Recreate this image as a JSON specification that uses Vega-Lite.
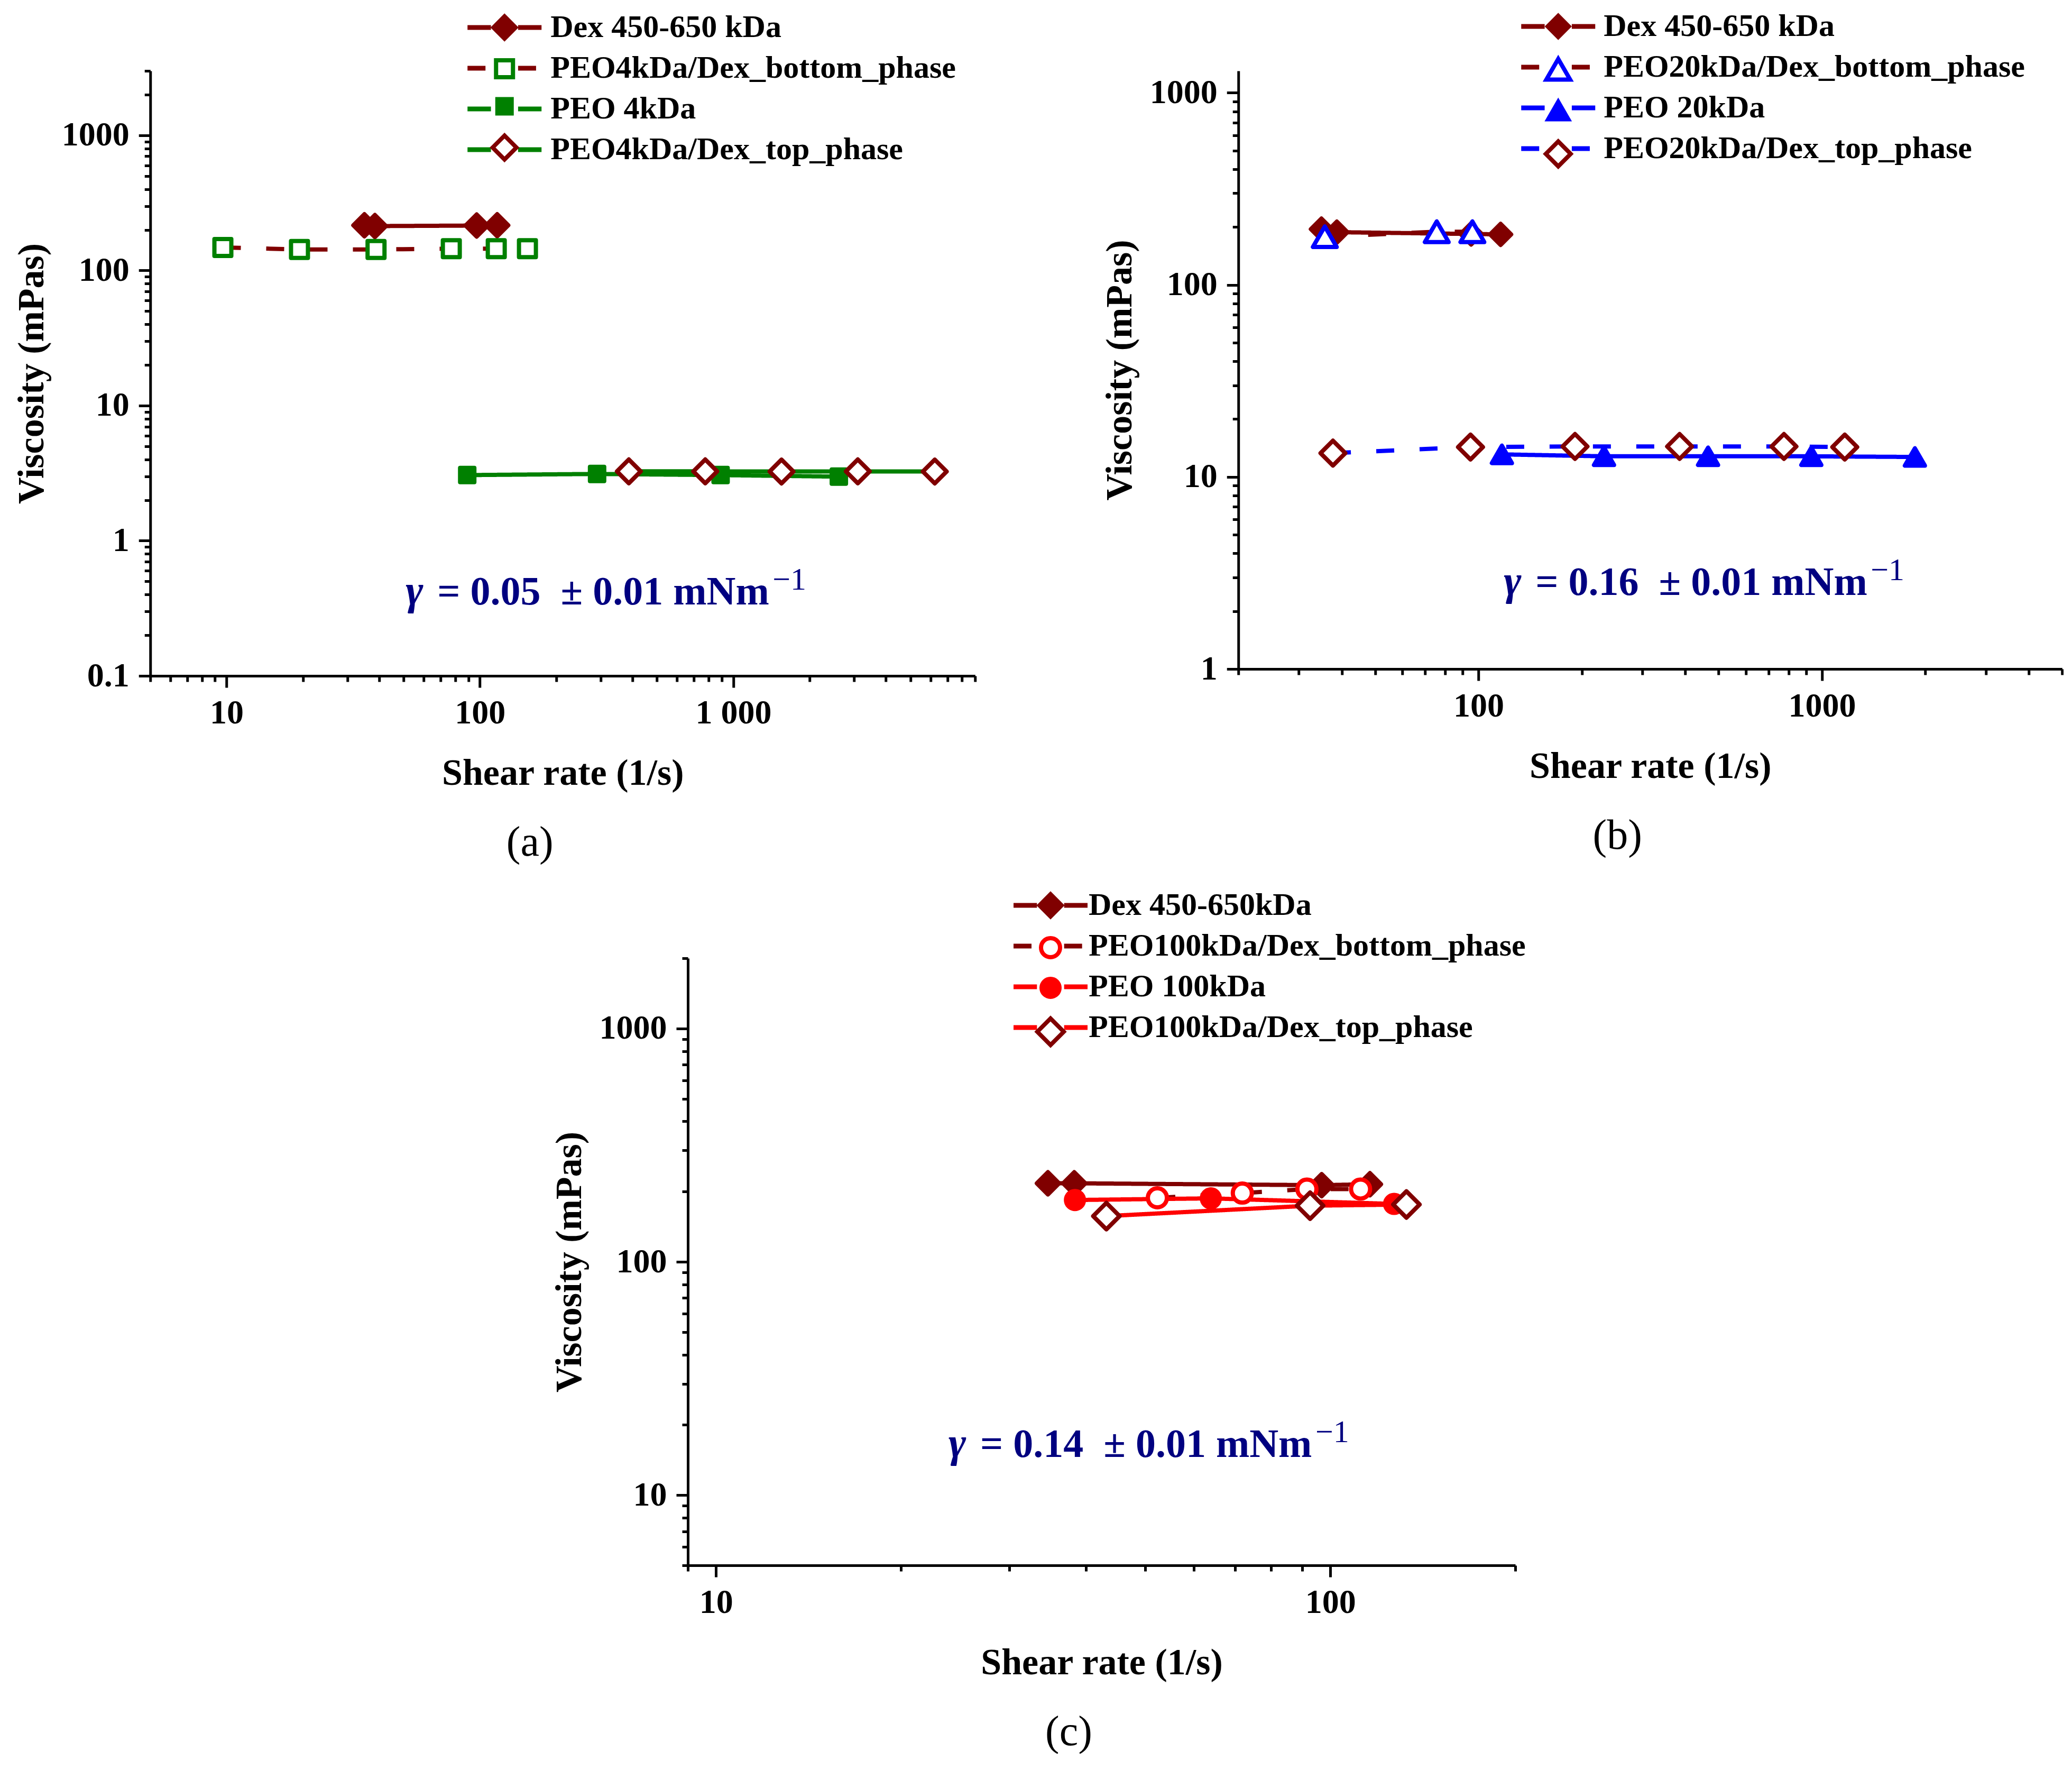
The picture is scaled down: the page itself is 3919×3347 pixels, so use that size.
{
  "$schema": "https://vega.github.io/schema/vega-lite/v6.json",
  "background": "white",
  "padding": {"left": 25, "top": 20, "right": 0, "bottom": 0},
  "config": {
    "font": "Liberation Serif",
    "view": {"stroke": null},
    "axis": {
      "grid": false,
      "domainColor": "black",
      "domainWidth": 5,
      "tickColor": "black",
      "tickWidth": 5,
      "labelFont": "Liberation Serif",
      "labelFontWeight": "bold",
      "labelFontSize": 64,
      "labelColor": "black",
      "labelOverlap": false,
      "labelFlush": false,
      "titleFont": "Liberation Serif",
      "titleFontWeight": "bold",
      "titleFontSize": 70,
      "titleColor": "black"
    },
    "axisX": {"labelPadding": 16, "titlePadding": 48},
    "axisY": {"labelPadding": 18, "titlePadding": 20},
    "legend": {
      "labelFont": "Liberation Serif",
      "labelFontWeight": "bold",
      "labelFontSize": 60,
      "labelColor": "black",
      "labelLimit": 2000,
      "padding": 0,
      "rowPadding": 17,
      "symbolOffset": 0
    },
    "title": {
      "orient": "bottom",
      "anchor": "middle",
      "frame": "group",
      "font": "Liberation Serif",
      "fontWeight": "normal",
      "fontSize": 80,
      "color": "black",
      "offset": 58,
      "baseline": "top"
    }
  },
  "center": true,
  "spacing": 48,
  "resolve": {
    "scale": {"color": "independent", "stroke": "independent", "fill": "independent", "shape": "independent", "size": "independent", "strokeDash": "independent"},
    "legend": {"color": "independent", "stroke": "independent", "fill": "independent", "shape": "independent", "size": "independent", "strokeDash": "independent"}
  },
  "vconcat": [
    {
      "spacing": 236,
      "resolve": {
        "scale": {"color": "independent", "stroke": "independent", "fill": "independent", "shape": "independent", "size": "independent", "strokeDash": "independent"},
        "legend": {"color": "independent", "stroke": "independent", "fill": "independent", "shape": "independent", "size": "independent", "strokeDash": "independent"}
      },
      "hconcat": [
        {
          "width": 1560,
          "height": 1144,
          "title": {"text": "(a)", "dx": -62},
          "data": {
            "values": [
              {"series": "Dex 450-650 kDa", "x": 35.0, "y": 216},
              {"series": "Dex 450-650 kDa", "x": 38.5, "y": 213},
              {"series": "Dex 450-650 kDa", "x": 97.1, "y": 215},
              {"series": "Dex 450-650 kDa", "x": 117, "y": 216},
              {"series": "PEO4kDa/Dex_bottom_phase", "x": 9.67, "y": 148},
              {"series": "PEO4kDa/Dex_bottom_phase", "x": 19.4, "y": 143},
              {"series": "PEO4kDa/Dex_bottom_phase", "x": 38.9, "y": 143},
              {"series": "PEO4kDa/Dex_bottom_phase", "x": 77.1, "y": 145},
              {"series": "PEO4kDa/Dex_bottom_phase", "x": 116, "y": 145},
              {"series": "PEO4kDa/Dex_bottom_phase", "x": 154, "y": 145},
              {"series": "PEO 4kDa", "x": 89.1, "y": 3.06},
              {"series": "PEO 4kDa", "x": 290, "y": 3.12},
              {"series": "PEO 4kDa", "x": 891, "y": 3.06},
              {"series": "PEO 4kDa", "x": 2610, "y": 2.98},
              {"series": "PEO4kDa/Dex_top_phase", "x": 387, "y": 3.26},
              {"series": "PEO4kDa/Dex_top_phase", "x": 775, "y": 3.26},
              {"series": "PEO4kDa/Dex_top_phase", "x": 1550, "y": 3.25},
              {"series": "PEO4kDa/Dex_top_phase", "x": 3100, "y": 3.26},
              {"series": "PEO4kDa/Dex_top_phase", "x": 6240, "y": 3.25}
            ]
          },
          "encoding": {
            "x": {
              "field": "x", "type": "quantitative", "title": "Shear rate (1/s)",
              "scale": {"type": "log", "domain": [5, 9000], "nice": false},
              "axis": {
                "values": [5,6,7,8,9,10,20,30,40,50,60,70,80,90,100,200,300,400,500,600,700,800,900,1000,2000,3000,4000,5000,6000,7000,8000,9000],
                "labelExpr": "datum.value == 10 ? '10' : datum.value == 100 ? '100' : datum.value == 1000 ? '1 000' : ''",
                "tickSize": {"condition": {"test": "indexof([10,100,1000], datum.value) >= 0", "value": 22}, "value": 11}
              }
            },
            "y": {
              "field": "y", "type": "quantitative", "title": "Viscosity (mPas)",
              "scale": {"type": "log", "domain": [0.1, 3000], "nice": false},
              "axis": {
                "values": [0.1,0.2,0.3,0.4,0.5,0.6,0.7,0.8,0.9,1,2,3,4,5,6,7,8,9,10,20,30,40,50,60,70,80,90,100,200,300,400,500,600,700,800,900,1000,2000,3000],
                "labelExpr": "indexof([0.1,1,10,100,1000], datum.value) >= 0 ? '' + datum.value : ''",
                "tickSize": {"condition": {"test": "indexof([0.1,1,10,100,1000], datum.value) >= 0", "value": 22}, "value": 11}
              }
            }
          },
          "layer": [
            {
              "mark": {"type": "line", "strokeWidth": 8},
              "encoding": {
                "color": {
                  "field": "series", "type": "nominal",
                  "scale": {"domain": ["Dex 450-650 kDa", "PEO4kDa/Dex_bottom_phase", "PEO 4kDa", "PEO4kDa/Dex_top_phase"], "range": ["#800000", "#800000", "#008000", "#008000"]},
                  "legend": {"orient": "none", "legendX": 640, "legendY": -112, "title": null, "symbolType": "M-3,0H-1.1M1.1,0H3", "symbolSize": 2178, "symbolStrokeWidth": 9, "labelOffset": 57}
                },
                "strokeDash": {
                  "field": "series", "type": "nominal",
                  "scale": {"domain": ["Dex 450-650 kDa", "PEO4kDa/Dex_bottom_phase", "PEO 4kDa", "PEO4kDa/Dex_top_phase"], "range": [[1, 0], [34, 48], [1, 0], [1, 0]]},
                  "legend": null
                }
              }
            },
            {
              "mark": {"type": "point", "opacity": 1, "strokeWidth": 8, "strokeJoin": "round"},
              "encoding": {
                "shape": {"field": "series", "type": "nominal", "sort": null, "scale": {"range": ["diamond", "square", "square", "diamond"]},
                  "legend": {"orient": "none", "legendX": 640, "legendY": -112, "title": null, "labelOffset": 57, "labelExpr": "''", "symbolStrokeWidth": 8, "rowPadding": 9}},
                "stroke": {"field": "series", "type": "nominal", "sort": null, "scale": {"range": ["#800000", "#008000", "#008000", "#800000"]}},
                "fill": {"field": "series", "type": "nominal", "sort": null, "scale": {"range": ["#800000", "#ffffff", "#008000", "#ffffff"]}},
                "size": {"field": "series", "type": "nominal", "sort": null, "scale": {"type": "ordinal", "range": [1764, 1024, 729, 2025]}}
              }
            },
            {
              "data": {"values": [{"x": 50.9, "y": 0.338, "t": "= 0.05\u00a0\u00a0± 0.01 mNm"}]},
              "layer": [
                {"mark": {"type": "text", "text": "γ", "fontSize": 80, "fontWeight": "bold", "fontStyle": "italic", "color": "#000080", "align": "left", "baseline": "alphabetic"}},
                {"mark": {"type": "text", "fontSize": 76, "fontWeight": "bold", "color": "#000080", "align": "left", "baseline": "alphabetic", "dx": 60}, "encoding": {"text": {"field": "t"}}},
                {"mark": {"type": "text", "text": "−1", "fontSize": 60, "fontWeight": "normal", "color": "#000080", "align": "left", "baseline": "alphabetic", "dx": 694, "dy": -28}}
              ]
            }
          ]
        },
        {
          "width": 1558,
          "height": 1131,
          "title": {"text": "(b)", "dx": -62},
          "data": {
            "values": [
              {"series": "Dex 450-650 kDa", "x": 34.9, "y": 195},
              {"series": "Dex 450-650 kDa", "x": 38.7, "y": 188},
              {"series": "Dex 450-650 kDa", "x": 95.2, "y": 184},
              {"series": "Dex 450-650 kDa", "x": 116, "y": 183},
              {"series": "PEO20kDa/Dex_bottom_phase", "x": 35.7, "y": 178},
              {"series": "PEO20kDa/Dex_bottom_phase", "x": 75.6, "y": 189},
              {"series": "PEO20kDa/Dex_bottom_phase", "x": 96, "y": 189},
              {"series": "PEO 20kDa", "x": 117, "y": 13.1},
              {"series": "PEO 20kDa", "x": 232, "y": 12.8},
              {"series": "PEO 20kDa", "x": 466, "y": 12.8},
              {"series": "PEO 20kDa", "x": 931, "y": 12.8},
              {"series": "PEO 20kDa", "x": 1864, "y": 12.7},
              {"series": "PEO20kDa/Dex_top_phase", "x": 37.7, "y": 13.3},
              {"series": "PEO20kDa/Dex_top_phase", "x": 94.8, "y": 14.3},
              {"series": "PEO20kDa/Dex_top_phase", "x": 191, "y": 14.4},
              {"series": "PEO20kDa/Dex_top_phase", "x": 385, "y": 14.4},
              {"series": "PEO20kDa/Dex_top_phase", "x": 775, "y": 14.4},
              {"series": "PEO20kDa/Dex_top_phase", "x": 1165, "y": 14.3}
            ]
          },
          "encoding": {
            "x": {
              "field": "x", "type": "quantitative", "title": "Shear rate (1/s)",
              "scale": {"type": "log", "domain": [20, 5000], "nice": false},
              "axis": {
                "values": [20,30,40,50,60,70,80,90,100,200,300,400,500,600,700,800,900,1000,2000,3000,4000,5000],
                "labelExpr": "datum.value == 100 ? '100' : datum.value == 1000 ? '1000' : ''",
                "tickSize": {"condition": {"test": "indexof([100,1000], datum.value) >= 0", "value": 22}, "value": 11}
              }
            },
            "y": {
              "field": "y", "type": "quantitative", "title": "Viscosity (mPas)",
              "scale": {"type": "log", "domain": [1, 1300], "nice": false},
              "axis": {
                "values": [1,2,3,4,5,6,7,8,9,10,20,30,40,50,60,70,80,90,100,200,300,400,500,600,700,800,900,1000],
                "labelExpr": "indexof([1,10,100,1000], datum.value) >= 0 ? '' + datum.value : ''",
                "tickSize": {"condition": {"test": "indexof([1,10,100,1000], datum.value) >= 0", "value": 22}, "value": 11}
              }
            }
          },
          "layer": [
            {
              "mark": {"type": "line", "strokeWidth": 8},
              "encoding": {
                "color": {
                  "field": "series", "type": "nominal",
                  "scale": {"domain": ["Dex 450-650 kDa", "PEO20kDa/Dex_bottom_phase", "PEO 20kDa", "PEO20kDa/Dex_top_phase"], "range": ["#800000", "#800000", "#0000ff", "#0000ff"]},
                  "legend": {"orient": "none", "legendX": 575, "legendY": -114, "title": null, "symbolType": "M-3,0H-1.1M1.1,0H3", "symbolSize": 2178, "symbolStrokeWidth": 9, "labelOffset": 56}
                },
                "strokeDash": {
                  "field": "series", "type": "nominal",
                  "scale": {"domain": ["Dex 450-650 kDa", "PEO20kDa/Dex_bottom_phase", "PEO 20kDa", "PEO20kDa/Dex_top_phase"], "range": [[1, 0], [34, 48], [1, 0], [34, 48]]},
                  "legend": null
                }
              }
            },
            {
              "mark": {"type": "point", "opacity": 1, "strokeWidth": 8, "strokeJoin": "round"},
              "encoding": {
                "shape": {"field": "series", "type": "nominal", "sort": null, "scale": {"range": ["diamond", "triangle-up", "triangle-up", "diamond"]},
                  "legend": {"orient": "none", "legendX": 575, "legendY": -114, "title": null, "labelOffset": 56, "labelExpr": "''", "symbolStrokeWidth": 8, "rowPadding": 9}},
                "stroke": {"field": "series", "type": "nominal", "sort": null, "scale": {"range": ["#800000", "#0000ff", "#0000ff", "#800000"]}},
                "fill": {"field": "series", "type": "nominal", "sort": null, "scale": {"range": ["#800000", "#ffffff", "#0000ff", "#ffffff"]}},
                "size": {"field": "series", "type": "nominal", "sort": null, "scale": {"type": "ordinal", "range": [1600, 2025, 1444, 2209]}}
              }
            },
            {
              "data": {"values": [{"x": 118.5, "y": 2.43, "t": "= 0.16\u00a0\u00a0± 0.01 mNm"}]},
              "layer": [
                {"mark": {"type": "text", "text": "γ", "fontSize": 80, "fontWeight": "bold", "fontStyle": "italic", "color": "#000080", "align": "left", "baseline": "alphabetic"}},
                {"mark": {"type": "text", "fontSize": 76, "fontWeight": "bold", "color": "#000080", "align": "left", "baseline": "alphabetic", "dx": 60}, "encoding": {"text": {"field": "t"}}},
                {"mark": {"type": "text", "text": "−1", "fontSize": 60, "fontWeight": "normal", "color": "#000080", "align": "left", "baseline": "alphabetic", "dx": 694, "dy": -28}}
              ]
            }
          ]
        }
      ]
    },
    {
      "width": 1565,
      "height": 1148,
      "title": {"text": "(c)", "dx": -62},
      "data": {
        "values": [
          {"series": "Dex 450-650kDa", "x": 34.7, "y": 217},
          {"series": "Dex 450-650kDa", "x": 38.3, "y": 217},
          {"series": "Dex 450-650kDa", "x": 96.8, "y": 213},
          {"series": "Dex 450-650kDa", "x": 116, "y": 215},
          {"series": "PEO100kDa/Dex_bottom_phase", "x": 52.3, "y": 188},
          {"series": "PEO100kDa/Dex_bottom_phase", "x": 71.9, "y": 197},
          {"series": "PEO100kDa/Dex_bottom_phase", "x": 91.6, "y": 205},
          {"series": "PEO100kDa/Dex_bottom_phase", "x": 112, "y": 205},
          {"series": "PEO 100kDa", "x": 38.4, "y": 184},
          {"series": "PEO 100kDa", "x": 63.9, "y": 187},
          {"series": "PEO 100kDa", "x": 127, "y": 177},
          {"series": "PEO100kDa/Dex_top_phase", "x": 43.2, "y": 157},
          {"series": "PEO100kDa/Dex_top_phase", "x": 92.7, "y": 174},
          {"series": "PEO100kDa/Dex_top_phase", "x": 133, "y": 176}
        ]
      },
      "encoding": {
        "x": {
          "field": "x", "type": "quantitative", "title": "Shear rate (1/s)",
          "scale": {"type": "log", "domain": [9, 200], "nice": false},
          "axis": {
            "values": [9,10,20,30,40,50,60,70,80,90,100,200],
            "labelExpr": "datum.value == 10 ? '10' : datum.value == 100 ? '100' : ''",
            "tickSize": {"condition": {"test": "indexof([10,100], datum.value) >= 0", "value": 22}, "value": 11}
          }
        },
        "y": {
          "field": "y", "type": "quantitative", "title": "Viscosity (mPas)",
          "scale": {"type": "log", "domain": [5, 2000], "nice": false},
          "axis": {
            "values": [5,6,7,8,9,10,20,30,40,50,60,70,80,90,100,200,300,400,500,600,700,800,900,1000,2000],
            "labelExpr": "indexof([10,100,1000], datum.value) >= 0 ? '' + datum.value : ''",
            "tickSize": {"condition": {"test": "indexof([10,100,1000], datum.value) >= 0", "value": 22}, "value": 11}
          }
        }
      },
      "layer": [
        {
          "mark": {"type": "line", "strokeWidth": 8},
          "encoding": {
            "color": {
              "field": "series", "type": "nominal",
              "scale": {"domain": ["Dex 450-650kDa", "PEO100kDa/Dex_bottom_phase", "PEO 100kDa", "PEO100kDa/Dex_top_phase"], "range": ["#800000", "#800000", "#ff0000", "#ff0000"]},
              "legend": {"orient": "none", "legendX": 656, "legendY": -130, "title": null, "symbolType": "M-3,0H-1.1M1.1,0H3", "symbolSize": 2178, "symbolStrokeWidth": 9, "labelOffset": 42}
            },
            "strokeDash": {
              "field": "series", "type": "nominal",
              "scale": {"domain": ["Dex 450-650kDa", "PEO100kDa/Dex_bottom_phase", "PEO 100kDa", "PEO100kDa/Dex_top_phase"], "range": [[1, 0], [34, 48], [1, 0], [1, 0]]},
              "legend": null
            }
          }
        },
        {
          "mark": {"type": "point", "opacity": 1, "strokeWidth": 8, "strokeJoin": "round"},
          "encoding": {
            "shape": {"field": "series", "type": "nominal", "sort": null, "scale": {"range": ["diamond", "circle", "circle", "diamond"]},
              "legend": {"orient": "none", "legendX": 656, "legendY": -130, "title": null, "labelOffset": 42, "labelExpr": "''", "symbolStrokeWidth": 8, "rowPadding": 9}},
            "stroke": {"field": "series", "type": "nominal", "sort": null, "scale": {"range": ["#800000", "#ff0000", "#ff0000", "#800000"]}},
            "fill": {"field": "series", "type": "nominal", "sort": null, "scale": {"range": ["#800000", "#ffffff", "#ff0000", "#ffffff"]}},
            "size": {"field": "series", "type": "nominal", "sort": null, "scale": {"type": "ordinal", "range": [1764, 1296, 1156, 2500]}}
          }
        },
        {
          "data": {"values": [{"x": 23.9, "y": 14.6, "t": "= 0.14\u00a0\u00a0± 0.01 mNm"}]},
          "layer": [
            {"mark": {"type": "text", "text": "γ", "fontSize": 80, "fontWeight": "bold", "fontStyle": "italic", "color": "#000080", "align": "left", "baseline": "alphabetic"}},
            {"mark": {"type": "text", "fontSize": 76, "fontWeight": "bold", "color": "#000080", "align": "left", "baseline": "alphabetic", "dx": 60}, "encoding": {"text": {"field": "t"}}},
            {"mark": {"type": "text", "text": "−1", "fontSize": 60, "fontWeight": "normal", "color": "#000080", "align": "left", "baseline": "alphabetic", "dx": 694, "dy": -28}}
          ]
        }
      ]
    }
  ]
}
